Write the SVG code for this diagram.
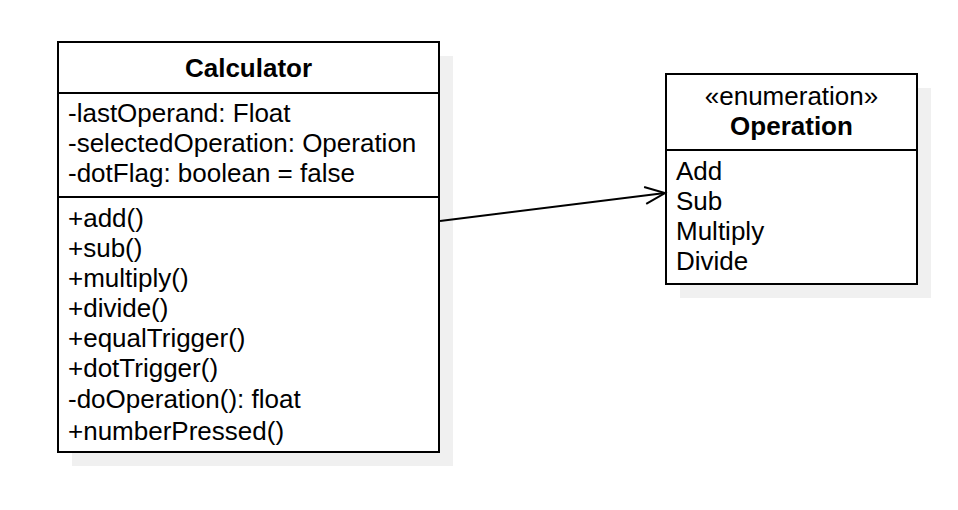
<svg xmlns="http://www.w3.org/2000/svg" width="958" height="510" viewBox="0 0 958 510">
<defs>
<style>
text{font-family:"Liberation Sans",Arial,sans-serif;font-size:26px;fill:#000}
.b{font-weight:bold}
.c{text-anchor:middle}
.box{fill:#fff;stroke:#000;stroke-width:2}
.sh{fill:#f0f0f0}
.ln{stroke:#000;stroke-width:2;fill:none}
</style>
<marker id="open" markerWidth="26" markerHeight="22" refX="21" refY="11" orient="auto" markerUnits="userSpaceOnUse">
<path d="M1,2.5 L21,11 L1,19.5" fill="none" stroke="#000" stroke-width="2"/>
</marker>
</defs>
<rect width="958" height="510" fill="#fff"/>
<g id="calculator">
<rect class="sh" x="72" y="56" width="381" height="410"/>
<rect class="box" x="58" y="42" width="381" height="410"/>
<line class="ln" x1="58" y1="93" x2="439" y2="93"/>
<line class="ln" x1="58" y1="197" x2="439" y2="197"/>
<text class="b c" x="248.5" y="77">Calculator</text>
<text x="68" y="122">-lastOperand: Float</text>
<text x="68" y="152">-selectedOperation: Operation</text>
<text x="68" y="182">-dotFlag: boolean = false</text>
<text x="68" y="227">+add()</text>
<text x="68" y="257">+sub()</text>
<text x="68" y="287">+multiply()</text>
<text x="68" y="317">+divide()</text>
<text x="68" y="347">+equalTrigger()</text>
<text x="68" y="377">+dotTrigger()</text>
<text x="68" y="408">-doOperation(): float</text>
<text x="68" y="440">+numberPressed()</text>
</g>
<g id="operation">
<rect class="sh" x="680" y="88" width="251" height="210"/>
<rect class="box" x="666" y="74" width="251" height="210"/>
<line class="ln" x1="666" y1="150" x2="917" y2="150"/>
<text class="c" x="791.5" y="105">«enumeration»</text>
<text class="b c" x="791.5" y="135">Operation</text>
<text x="676" y="180">Add</text>
<text x="676" y="210">Sub</text>
<text x="676" y="240">Multiply</text>
<text x="676" y="270">Divide</text>
</g>
<g id="connectors">
<line class="ln" x1="440" y1="221" x2="665" y2="193" marker-end="url(#open)"/>
</g>
</svg>
